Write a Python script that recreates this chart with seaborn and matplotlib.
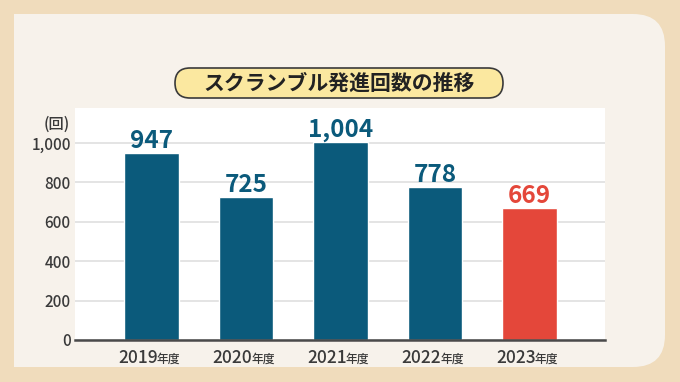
import matplotlib
matplotlib.use("Agg")
import matplotlib.pyplot as plt
import seaborn as sns
import pandas as pd
from matplotlib.patches import FancyBboxPatch, Rectangle
from matplotlib.transforms import IdentityTransform

# data
years = ["2019", "2020", "2021", "2022", "2023"]
counts = [947, 725, 1004, 778, 669]
bar_colors = ["#0B5A7B", "#0B5A7B", "#0B5A7B", "#0B5A7B", "#E4473A"]
title = "スクランブル発進回数の推移"
unit_label = "(回)"
year_suffix = "年度"

df = pd.DataFrame({"year": years, "count": counts})

sns.set_theme(style="white")
plt.rcParams["font.family"] = ["Noto Sans CJK JP", "DejaVu Sans"]

fig = plt.figure(figsize=(6.8, 3.82), dpi=100, facecolor="#F0DCBC")
ax = fig.add_axes([75 / 680, 1 - 340 / 382, 530 / 680, 232 / 382])
ax.set_facecolor("white")

# light panel behind the chart (square left corners, rounded right corners)
panel_col = "#F7F2EB"
fig.add_artist(FancyBboxPatch((14, 15), 651, 353, boxstyle="round,pad=0,rounding_size=32",
                              fc=panel_col, ec="none", transform=IdentityTransform(), zorder=-2))
fig.add_artist(Rectangle((14, 15), 100, 353, fc=panel_col, ec="none",
                         transform=IdentityTransform(), zorder=-2))

sns.barplot(data=df, x="year", y="count", hue="year", palette=bar_colors,
            width=0.58, saturation=1, legend=False, ax=ax, zorder=3)

ax.set_xlim(-0.81, 4.80)
ax.set_ylim(0, 1178)
ax.set_yticks([0, 200, 400, 600, 800, 1000])
ax.set_yticklabels([f"{v:,}" for v in [0, 200, 400, 600, 800, 1000]])
ax.yaxis.grid(True, color="#E2E2E2", linewidth=1.3, zorder=0)
ax.set_axisbelow(True)
ax.tick_params(axis="y", length=0, pad=3, labelsize=11, labelcolor="#3A3A3A")
for lbl in ax.get_yticklabels():
    lbl.set_fontweight("medium")
ax.tick_params(axis="x", length=0)
ax.set_xticklabels([])
ax.set_xlabel("")
ax.set_ylabel("")
for s in ["top", "right", "left"]:
    ax.spines[s].set_visible(False)
ax.spines["bottom"].set_color("#4A4A4A")
ax.spines["bottom"].set_linewidth(1.8)
ax.spines["bottom"].set_zorder(4)

# value labels
for i, v in enumerate(counts):
    ax.annotate(f"{v:,}", xy=(i, v), xytext=(0, 0), textcoords="offset points",
                ha="center", va="bottom", fontsize=17.5, fontweight="bold",
                color=bar_colors[i])

# x labels: year + smaller suffix
for i, y in enumerate(years):
    t = ax.annotate(y, xy=(i, 0), xycoords=("data", "axes fraction"),
                    xytext=(4.5, -13), textcoords="offset points",
                    ha="right", va="center", fontsize=12.5, fontweight="medium",
                    color="#3A3A3A")
    ax.annotate(year_suffix, xy=(1, 0), xycoords=t, xytext=(-0.8, 0.6),
                textcoords="offset points", ha="left", va="bottom",
                fontsize=8.5, fontweight="medium", color="#3A3A3A")

fig.text(57 / 680, 1 - 124 / 382, unit_label, ha="center", va="center",
         fontsize=11, fontweight="medium", color="#3A3A3A")

# title pill
fig.add_artist(FancyBboxPatch((175, 284), 328, 30, boxstyle="round,pad=0,rounding_size=15",
                              fc="#FBE8A0", ec="#3A3A3A", lw=1.2,
                              transform=IdentityTransform(), zorder=5))
fig.text(339 / 680, 1 - 83 / 382, title, ha="center", va="center", fontsize=15,
         fontweight="bold", color="#222222", zorder=6)

fig.savefig("out.png", dpi=100, facecolor=fig.get_facecolor())
